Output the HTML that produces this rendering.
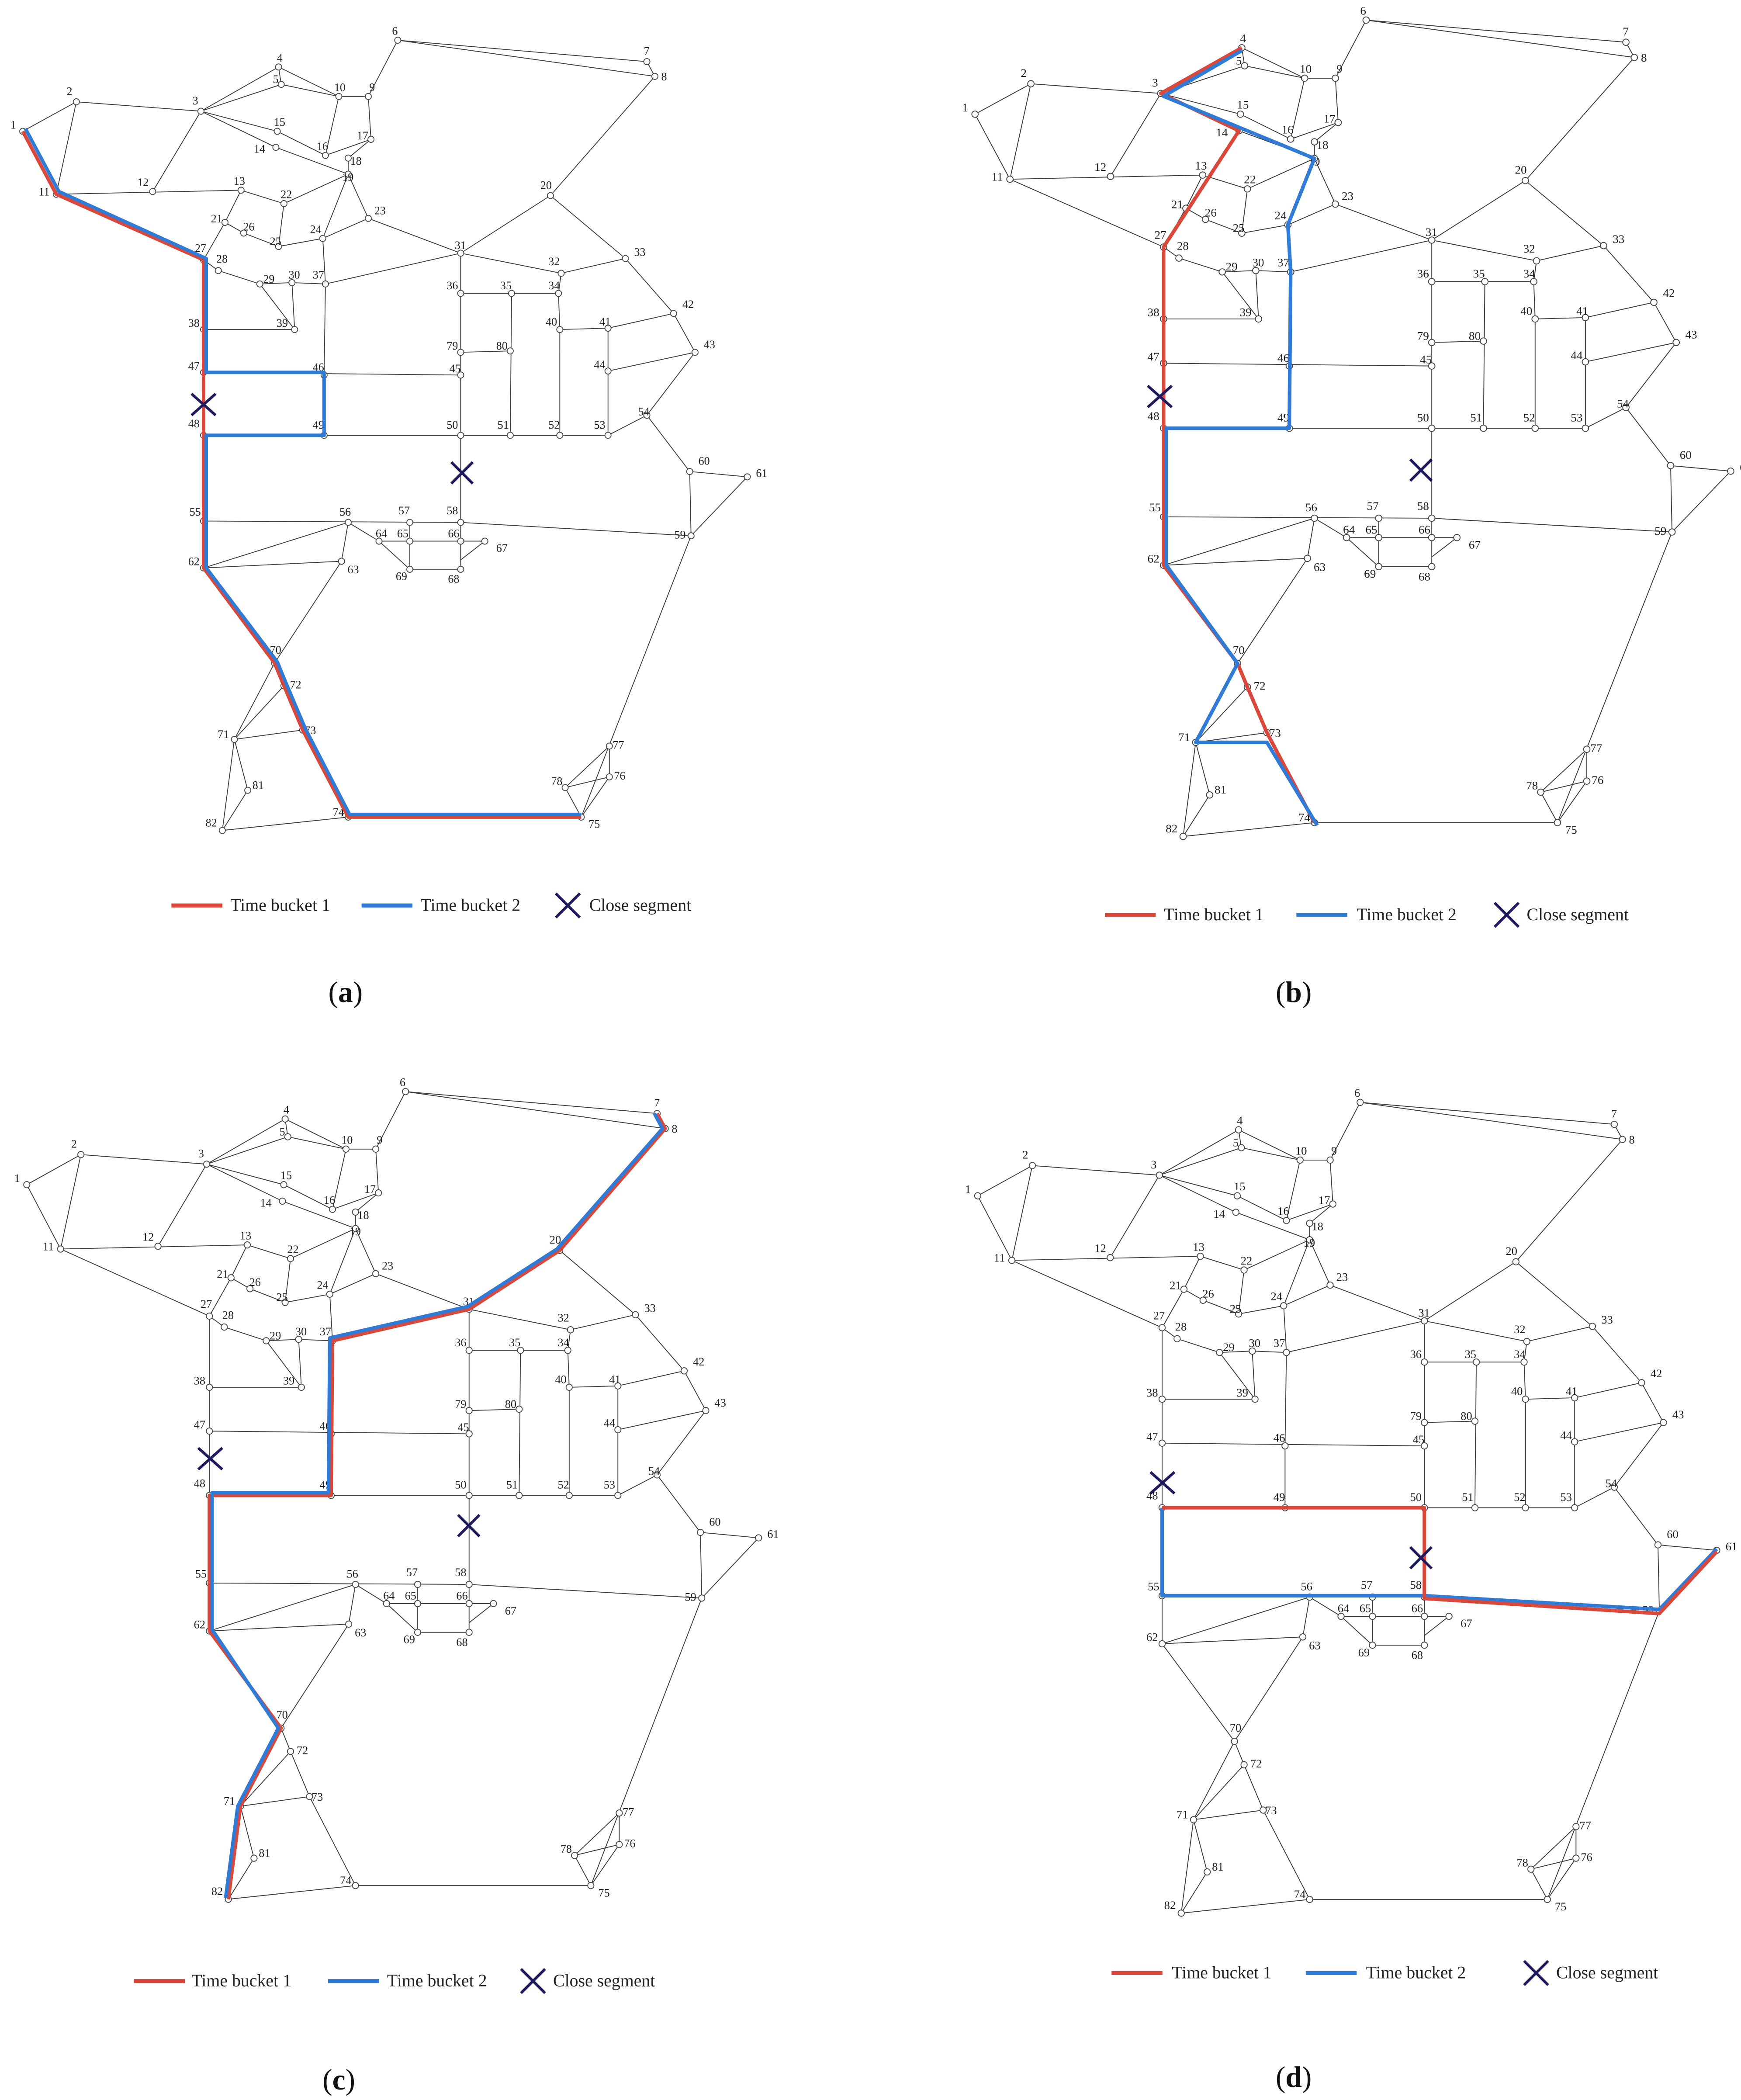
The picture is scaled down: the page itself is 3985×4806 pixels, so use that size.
<!DOCTYPE html>
<html><head><meta charset="utf-8"><style>
html,body{margin:0;padding:0;background:#fff;}
svg{display:block;}
.e{stroke:#3a3a3a;stroke-width:0.6;fill:none;}
.n circle{fill:#fff;stroke:#444;stroke-width:0.6;}
.l text{font-family:"Liberation Serif",serif;font-size:8.5px;fill:#222;text-anchor:end;}
.r{stroke:#d9483b;stroke-width:2.6;fill:none;stroke-linejoin:round;}
.b{stroke:#2f7bd6;stroke-width:2.6;fill:none;stroke-linejoin:round;}
.x{stroke:#1f1a5e;stroke-width:2;}
.lg{font-family:"Liberation Serif",serif;font-size:13px;fill:#222;}
.cap{font-family:"Liberation Serif",serif;font-size:22px;fill:#111;text-anchor:middle;}
</style></head><body>
<svg width="3985" height="4806" viewBox="0 0 1300 1567.8" xmlns="http://www.w3.org/2000/svg">
<rect width="1300" height="1568" fill="#fff"/>
<defs></defs>

<!-- PANEL A -->
<g transform="translate(0,0)">
<path class="e" d="M17 98L57 76M17 98L42 145M57 76L42 145M57 76L150 83M150 83L114 143M42 145L180 142M150 83L208 50M150 83L210 63M208 50L210 63M208 50L253 72M210 63L253 72M253 72L275 72M275 72L297 30M297 30L483 46M297 30L489 57M483 46L489 57M489 57L411 146M411 146L344 189M411 146L467 193M275 72L277 104M253 72L243 116M243 116L277 104M277 104L260 118M260 118L260 130M150 83L207 98M207 98L243 116M150 83L206 110M206 110L260 130M180 142L212 152M212 152L260 130M180 142L168 166M168 166L182 174M182 174L208 184M208 184L241 178M212 152L208 184M241 178L260 130M260 130L275 163M241 178L275 163M275 163L344 189M243 212L344 189M168 166L152 194M152 194L163 202M163 202L194 212M194 212L218 211M218 211L243 212M194 212L220 246M218 211L220 246M152 194L152 246M152 246L220 246M152 246L152 278M152 278L344 280M344 189L344 219M344 219L344 280M344 280L344 325M344 325L344 390M344 219L382 219M382 219L417 219M417 219L419 204M419 204L344 189M419 204L467 193M382 219L381 325M344 263L381 262M417 219L418 246M418 246L418 325M418 246L454 245M454 245L503 234M503 234L519 263M467 193L503 234M454 245L454 277M454 277L519 263M454 277L454 325M152 325L454 325M454 325L483 310M519 263L483 310M483 310L515 352M515 352L558 356M515 352L516 400M558 356L516 400M516 400L434 610M152 389L344 390M344 390L516 400M241 178L243 212M243 212L242 280M242 280L242 325M152 278L152 325M152 325L152 389M152 389L152 424M152 424L205 495M152 424L260 390M152 424L255 419M255 419L260 390M255 419L205 495M260 390L283 404M283 404L306 425M283 404L344 404M344 404L362 404M344 404L344 425M344 425L306 425M306 390L306 425M344 390L344 404M362 404L344 418M205 495L212 512M212 512L226 545M205 495L175 552M175 552L212 512M175 552L226 545M226 545L260 610M260 610L434 610M175 552L185 590M175 552L166 620M185 590L166 620M166 620L260 610M434 610L422 588M422 588L455 557M422 588L455 580M455 557L455 580M455 580L434 610M42 145L152 194"/>
<g class="n"><circle cx="17" cy="98" r="2.3"/><circle cx="57" cy="76" r="2.3"/><circle cx="150" cy="83" r="2.3"/><circle cx="208" cy="50" r="2.3"/><circle cx="210" cy="63" r="2.3"/><circle cx="297" cy="30" r="2.3"/><circle cx="483" cy="46" r="2.3"/><circle cx="489" cy="57" r="2.3"/><circle cx="275" cy="72" r="2.3"/><circle cx="253" cy="72" r="2.3"/><circle cx="42" cy="145" r="2.3"/><circle cx="114" cy="143" r="2.3"/><circle cx="180" cy="142" r="2.3"/><circle cx="206" cy="110" r="2.3"/><circle cx="207" cy="98" r="2.3"/><circle cx="243" cy="116" r="2.3"/><circle cx="277" cy="104" r="2.3"/><circle cx="260" cy="118" r="2.3"/><circle cx="260" cy="130" r="2.3"/><circle cx="411" cy="146" r="2.3"/><circle cx="168" cy="166" r="2.3"/><circle cx="212" cy="152" r="2.3"/><circle cx="275" cy="163" r="2.3"/><circle cx="241" cy="178" r="2.3"/><circle cx="208" cy="184" r="2.3"/><circle cx="182" cy="174" r="2.3"/><circle cx="152" cy="194" r="2.3"/><circle cx="163" cy="202" r="2.3"/><circle cx="194" cy="212" r="2.3"/><circle cx="218" cy="211" r="2.3"/><circle cx="344" cy="189" r="2.3"/><circle cx="419" cy="204" r="2.3"/><circle cx="467" cy="193" r="2.3"/><circle cx="417" cy="219" r="2.3"/><circle cx="382" cy="219" r="2.3"/><circle cx="344" cy="219" r="2.3"/><circle cx="243" cy="212" r="2.3"/><circle cx="152" cy="246" r="2.3"/><circle cx="220" cy="246" r="2.3"/><circle cx="418" cy="246" r="2.3"/><circle cx="454" cy="245" r="2.3"/><circle cx="503" cy="234" r="2.3"/><circle cx="519" cy="263" r="2.3"/><circle cx="454" cy="277" r="2.3"/><circle cx="344" cy="280" r="2.3"/><circle cx="242" cy="280" r="2.3"/><circle cx="152" cy="278" r="2.3"/><circle cx="152" cy="325" r="2.3"/><circle cx="242" cy="325" r="2.3"/><circle cx="344" cy="325" r="2.3"/><circle cx="381" cy="325" r="2.3"/><circle cx="418" cy="325" r="2.3"/><circle cx="454" cy="325" r="2.3"/><circle cx="483" cy="310" r="2.3"/><circle cx="152" cy="389" r="2.3"/><circle cx="260" cy="390" r="2.3"/><circle cx="306" cy="390" r="2.3"/><circle cx="344" cy="390" r="2.3"/><circle cx="516" cy="400" r="2.3"/><circle cx="515" cy="352" r="2.3"/><circle cx="558" cy="356" r="2.3"/><circle cx="152" cy="424" r="2.3"/><circle cx="255" cy="419" r="2.3"/><circle cx="283" cy="404" r="2.3"/><circle cx="306" cy="404" r="2.3"/><circle cx="344" cy="404" r="2.3"/><circle cx="362" cy="404" r="2.3"/><circle cx="344" cy="425" r="2.3"/><circle cx="306" cy="425" r="2.3"/><circle cx="205" cy="495" r="2.3"/><circle cx="175" cy="552" r="2.3"/><circle cx="212" cy="512" r="2.3"/><circle cx="226" cy="545" r="2.3"/><circle cx="260" cy="610" r="2.3"/><circle cx="434" cy="610" r="2.3"/><circle cx="455" cy="580" r="2.3"/><circle cx="455" cy="557" r="2.3"/><circle cx="422" cy="588" r="2.3"/><circle cx="344" cy="263" r="2.3"/><circle cx="381" cy="262" r="2.3"/><circle cx="185" cy="590" r="2.3"/><circle cx="166" cy="620" r="2.3"/></g>
<g class="l"><text x="12" y="96">1</text><text x="54" y="71">2</text><text x="148" y="78">3</text><text x="211" y="46">4</text><text x="208" y="62">5</text><text x="297" y="26">6</text><text x="485" y="41">7</text><text x="498" y="60">8</text><text x="280" y="68">9</text><text x="258" y="68">10</text><text x="37" y="146">11</text><text x="111" y="139">12</text><text x="183" y="138">13</text><text x="198" y="114">14</text><text x="213" y="94">15</text><text x="245" y="112">16</text><text x="275" y="104">17</text><text x="270" y="123">18</text><text x="264" y="135">19</text><text x="412" y="141">20</text><text x="166" y="166">21</text><text x="218" y="148">22</text><text x="288" y="160">23</text><text x="240" y="174">24</text><text x="210" y="183">25</text><text x="190" y="172">26</text><text x="154" y="188">27</text><text x="170" y="196">28</text><text x="205" y="211">29</text><text x="224" y="208">30</text><text x="348" y="186">31</text><text x="418" y="198">32</text><text x="482" y="191">33</text><text x="418" y="216">34</text><text x="382" y="216">35</text><text x="342" y="216">36</text><text x="242" y="208">37</text><text x="149" y="244">38</text><text x="215" y="244">39</text><text x="416" y="243">40</text><text x="456" y="243">41</text><text x="518" y="230">42</text><text x="534" y="260">43</text><text x="452" y="275">44</text><text x="344" y="278">45</text><text x="242" y="277">46</text><text x="149" y="276">47</text><text x="149" y="319">48</text><text x="242" y="320">49</text><text x="342" y="320">50</text><text x="380" y="320">51</text><text x="418" y="320">52</text><text x="452" y="320">53</text><text x="485" y="310">54</text><text x="150" y="385">55</text><text x="262" y="385">56</text><text x="306" y="384">57</text><text x="342" y="384">58</text><text x="512" y="402">59</text><text x="530" y="347">60</text><text x="573" y="356">61</text><text x="149" y="422">62</text><text x="268" y="428">63</text><text x="289" y="401">64</text><text x="305" y="401">65</text><text x="343" y="401">66</text><text x="379" y="412">67</text><text x="343" y="435">68</text><text x="304" y="433">69</text><text x="210" y="488">70</text><text x="171" y="551">71</text><text x="225" y="514">72</text><text x="236" y="548">73</text><text x="257" y="609">74</text><text x="448" y="618">75</text><text x="467" y="582">76</text><text x="466" y="559">77</text><text x="420" y="586">78</text><text x="342" y="261">79</text><text x="379" y="261">80</text><text x="197" y="589">81</text><text x="162" y="617">82</text></g>
<path class="r" d="M17 98L42 145L152 194L152 278L152 325L152 389L152 424L205 495L212 512L226 545L260 610L434 610"/>
<path class="b" d="M19 96L44 143L154 193L154 278L242 278L242 325L154 325L154 424L207 494L214 511L228 544L261 608L434 608"/>
</g>

<!-- PANEL B -->
<g transform="translate(710.3,-16) scale(1.043,1.033)">
<path class="e" d="M17 98L57 76M17 98L42 145M57 76L42 145M57 76L150 83M150 83L114 143M42 145L180 142M150 83L208 50M150 83L210 63M208 50L210 63M208 50L253 72M210 63L253 72M253 72L275 72M275 72L297 30M297 30L483 46M297 30L489 57M483 46L489 57M489 57L411 146M411 146L344 189M411 146L467 193M275 72L277 104M253 72L243 116M243 116L277 104M277 104L260 118M260 118L260 130M150 83L207 98M207 98L243 116M150 83L206 110M206 110L260 130M180 142L212 152M212 152L260 130M180 142L168 166M168 166L182 174M182 174L208 184M208 184L241 178M212 152L208 184M241 178L260 130M260 130L275 163M241 178L275 163M275 163L344 189M243 212L344 189M168 166L152 194M152 194L163 202M163 202L194 212M194 212L218 211M218 211L243 212M194 212L220 246M218 211L220 246M152 194L152 246M152 246L220 246M152 246L152 278M152 278L344 280M344 189L344 219M344 219L344 280M344 280L344 325M344 325L344 390M344 219L382 219M382 219L417 219M417 219L419 204M419 204L344 189M419 204L467 193M382 219L381 325M344 263L381 262M417 219L418 246M418 246L418 325M418 246L454 245M454 245L503 234M503 234L519 263M467 193L503 234M454 245L454 277M454 277L519 263M454 277L454 325M152 325L454 325M454 325L483 310M519 263L483 310M483 310L515 352M515 352L558 356M515 352L516 400M558 356L516 400M516 400L434 610M152 389L344 390M344 390L516 400M241 178L243 212M243 212L242 280M242 280L242 325M152 278L152 325M152 325L152 389M152 389L152 424M152 424L205 495M152 424L260 390M152 424L255 419M255 419L260 390M255 419L205 495M260 390L283 404M283 404L306 425M283 404L344 404M344 404L362 404M344 404L344 425M344 425L306 425M306 390L306 425M344 390L344 404M362 404L344 418M205 495L212 512M212 512L226 545M205 495L175 552M175 552L212 512M175 552L226 545M226 545L260 610M260 610L434 610M175 552L185 590M175 552L166 620M185 590L166 620M166 620L260 610M434 610L422 588M422 588L455 557M422 588L455 580M455 557L455 580M455 580L434 610M42 145L152 194"/>
<g class="n"><circle cx="17" cy="98" r="2.3"/><circle cx="57" cy="76" r="2.3"/><circle cx="150" cy="83" r="2.3"/><circle cx="208" cy="50" r="2.3"/><circle cx="210" cy="63" r="2.3"/><circle cx="297" cy="30" r="2.3"/><circle cx="483" cy="46" r="2.3"/><circle cx="489" cy="57" r="2.3"/><circle cx="275" cy="72" r="2.3"/><circle cx="253" cy="72" r="2.3"/><circle cx="42" cy="145" r="2.3"/><circle cx="114" cy="143" r="2.3"/><circle cx="180" cy="142" r="2.3"/><circle cx="206" cy="110" r="2.3"/><circle cx="207" cy="98" r="2.3"/><circle cx="243" cy="116" r="2.3"/><circle cx="277" cy="104" r="2.3"/><circle cx="260" cy="118" r="2.3"/><circle cx="260" cy="130" r="2.3"/><circle cx="411" cy="146" r="2.3"/><circle cx="168" cy="166" r="2.3"/><circle cx="212" cy="152" r="2.3"/><circle cx="275" cy="163" r="2.3"/><circle cx="241" cy="178" r="2.3"/><circle cx="208" cy="184" r="2.3"/><circle cx="182" cy="174" r="2.3"/><circle cx="152" cy="194" r="2.3"/><circle cx="163" cy="202" r="2.3"/><circle cx="194" cy="212" r="2.3"/><circle cx="218" cy="211" r="2.3"/><circle cx="344" cy="189" r="2.3"/><circle cx="419" cy="204" r="2.3"/><circle cx="467" cy="193" r="2.3"/><circle cx="417" cy="219" r="2.3"/><circle cx="382" cy="219" r="2.3"/><circle cx="344" cy="219" r="2.3"/><circle cx="243" cy="212" r="2.3"/><circle cx="152" cy="246" r="2.3"/><circle cx="220" cy="246" r="2.3"/><circle cx="418" cy="246" r="2.3"/><circle cx="454" cy="245" r="2.3"/><circle cx="503" cy="234" r="2.3"/><circle cx="519" cy="263" r="2.3"/><circle cx="454" cy="277" r="2.3"/><circle cx="344" cy="280" r="2.3"/><circle cx="242" cy="280" r="2.3"/><circle cx="152" cy="278" r="2.3"/><circle cx="152" cy="325" r="2.3"/><circle cx="242" cy="325" r="2.3"/><circle cx="344" cy="325" r="2.3"/><circle cx="381" cy="325" r="2.3"/><circle cx="418" cy="325" r="2.3"/><circle cx="454" cy="325" r="2.3"/><circle cx="483" cy="310" r="2.3"/><circle cx="152" cy="389" r="2.3"/><circle cx="260" cy="390" r="2.3"/><circle cx="306" cy="390" r="2.3"/><circle cx="344" cy="390" r="2.3"/><circle cx="516" cy="400" r="2.3"/><circle cx="515" cy="352" r="2.3"/><circle cx="558" cy="356" r="2.3"/><circle cx="152" cy="424" r="2.3"/><circle cx="255" cy="419" r="2.3"/><circle cx="283" cy="404" r="2.3"/><circle cx="306" cy="404" r="2.3"/><circle cx="344" cy="404" r="2.3"/><circle cx="362" cy="404" r="2.3"/><circle cx="344" cy="425" r="2.3"/><circle cx="306" cy="425" r="2.3"/><circle cx="205" cy="495" r="2.3"/><circle cx="175" cy="552" r="2.3"/><circle cx="212" cy="512" r="2.3"/><circle cx="226" cy="545" r="2.3"/><circle cx="260" cy="610" r="2.3"/><circle cx="434" cy="610" r="2.3"/><circle cx="455" cy="580" r="2.3"/><circle cx="455" cy="557" r="2.3"/><circle cx="422" cy="588" r="2.3"/><circle cx="344" cy="263" r="2.3"/><circle cx="381" cy="262" r="2.3"/><circle cx="185" cy="590" r="2.3"/><circle cx="166" cy="620" r="2.3"/></g>
<g class="l"><text x="12" y="96">1</text><text x="54" y="71">2</text><text x="148" y="78">3</text><text x="211" y="46">4</text><text x="208" y="62">5</text><text x="297" y="26">6</text><text x="485" y="41">7</text><text x="498" y="60">8</text><text x="280" y="68">9</text><text x="258" y="68">10</text><text x="37" y="146">11</text><text x="111" y="139">12</text><text x="183" y="138">13</text><text x="198" y="114">14</text><text x="213" y="94">15</text><text x="245" y="112">16</text><text x="275" y="104">17</text><text x="270" y="123">18</text><text x="264" y="135">19</text><text x="412" y="141">20</text><text x="166" y="166">21</text><text x="218" y="148">22</text><text x="288" y="160">23</text><text x="240" y="174">24</text><text x="210" y="183">25</text><text x="190" y="172">26</text><text x="154" y="188">27</text><text x="170" y="196">28</text><text x="205" y="211">29</text><text x="224" y="208">30</text><text x="348" y="186">31</text><text x="418" y="198">32</text><text x="482" y="191">33</text><text x="418" y="216">34</text><text x="382" y="216">35</text><text x="342" y="216">36</text><text x="242" y="208">37</text><text x="149" y="244">38</text><text x="215" y="244">39</text><text x="416" y="243">40</text><text x="456" y="243">41</text><text x="518" y="230">42</text><text x="534" y="260">43</text><text x="452" y="275">44</text><text x="344" y="278">45</text><text x="242" y="277">46</text><text x="149" y="276">47</text><text x="149" y="319">48</text><text x="242" y="320">49</text><text x="342" y="320">50</text><text x="380" y="320">51</text><text x="418" y="320">52</text><text x="452" y="320">53</text><text x="485" y="310">54</text><text x="150" y="385">55</text><text x="262" y="385">56</text><text x="306" y="384">57</text><text x="342" y="384">58</text><text x="512" y="402">59</text><text x="530" y="347">60</text><text x="573" y="356">61</text><text x="149" y="422">62</text><text x="268" y="428">63</text><text x="289" y="401">64</text><text x="305" y="401">65</text><text x="343" y="401">66</text><text x="379" y="412">67</text><text x="343" y="435">68</text><text x="304" y="433">69</text><text x="210" y="488">70</text><text x="171" y="551">71</text><text x="225" y="514">72</text><text x="236" y="548">73</text><text x="257" y="609">74</text><text x="448" y="618">75</text><text x="467" y="582">76</text><text x="466" y="559">77</text><text x="420" y="586">78</text><text x="342" y="261">79</text><text x="379" y="261">80</text><text x="197" y="589">81</text><text x="162" y="617">82</text></g>
<path class="r" d="M208 50L150 83L206 110L152 194L152 424L205 495L212 512L226 545L260 610"/>
<path class="b" d="M208 52L152 85L260 130L241 178L243 212L242 325L154 325L154 424L205 495L175 552L226 552L262 612"/>
</g>

<!-- PANEL C -->
<g transform="translate(2.83,784.3) scale(1.01,1.022)">
<path class="e" d="M17 98L57 76M17 98L42 145M57 76L42 145M57 76L150 83M150 83L114 143M42 145L180 142M150 83L208 50M150 83L210 63M208 50L210 63M208 50L253 72M210 63L253 72M253 72L275 72M275 72L297 30M297 30L483 46M297 30L489 57M483 46L489 57M489 57L411 146M411 146L344 189M411 146L467 193M275 72L277 104M253 72L243 116M243 116L277 104M277 104L260 118M260 118L260 130M150 83L207 98M207 98L243 116M150 83L206 110M206 110L260 130M180 142L212 152M212 152L260 130M180 142L168 166M168 166L182 174M182 174L208 184M208 184L241 178M212 152L208 184M241 178L260 130M260 130L275 163M241 178L275 163M275 163L344 189M243 212L344 189M168 166L152 194M152 194L163 202M163 202L194 212M194 212L218 211M218 211L243 212M194 212L220 246M218 211L220 246M152 194L152 246M152 246L220 246M152 246L152 278M152 278L344 280M344 189L344 219M344 219L344 280M344 280L344 325M344 325L344 390M344 219L382 219M382 219L417 219M417 219L419 204M419 204L344 189M419 204L467 193M382 219L381 325M344 263L381 262M417 219L418 246M418 246L418 325M418 246L454 245M454 245L503 234M503 234L519 263M467 193L503 234M454 245L454 277M454 277L519 263M454 277L454 325M152 325L454 325M454 325L483 310M519 263L483 310M483 310L515 352M515 352L558 356M515 352L516 400M558 356L516 400M516 400L434 610M152 389L344 390M344 390L516 400M241 178L243 212M243 212L242 280M242 280L242 325M152 278L152 325M152 325L152 389M152 389L152 424M152 424L205 495M152 424L260 390M152 424L255 419M255 419L260 390M255 419L205 495M260 390L283 404M283 404L306 425M283 404L344 404M344 404L362 404M344 404L344 425M344 425L306 425M306 390L306 425M344 390L344 404M362 404L344 418M205 495L212 512M212 512L226 545M205 495L175 552M175 552L212 512M175 552L226 545M226 545L260 610M260 610L434 610M175 552L185 590M175 552L166 620M185 590L166 620M166 620L260 610M434 610L422 588M422 588L455 557M422 588L455 580M455 557L455 580M455 580L434 610M42 145L152 194"/>
<g class="n"><circle cx="17" cy="98" r="2.3"/><circle cx="57" cy="76" r="2.3"/><circle cx="150" cy="83" r="2.3"/><circle cx="208" cy="50" r="2.3"/><circle cx="210" cy="63" r="2.3"/><circle cx="297" cy="30" r="2.3"/><circle cx="483" cy="46" r="2.3"/><circle cx="489" cy="57" r="2.3"/><circle cx="275" cy="72" r="2.3"/><circle cx="253" cy="72" r="2.3"/><circle cx="42" cy="145" r="2.3"/><circle cx="114" cy="143" r="2.3"/><circle cx="180" cy="142" r="2.3"/><circle cx="206" cy="110" r="2.3"/><circle cx="207" cy="98" r="2.3"/><circle cx="243" cy="116" r="2.3"/><circle cx="277" cy="104" r="2.3"/><circle cx="260" cy="118" r="2.3"/><circle cx="260" cy="130" r="2.3"/><circle cx="411" cy="146" r="2.3"/><circle cx="168" cy="166" r="2.3"/><circle cx="212" cy="152" r="2.3"/><circle cx="275" cy="163" r="2.3"/><circle cx="241" cy="178" r="2.3"/><circle cx="208" cy="184" r="2.3"/><circle cx="182" cy="174" r="2.3"/><circle cx="152" cy="194" r="2.3"/><circle cx="163" cy="202" r="2.3"/><circle cx="194" cy="212" r="2.3"/><circle cx="218" cy="211" r="2.3"/><circle cx="344" cy="189" r="2.3"/><circle cx="419" cy="204" r="2.3"/><circle cx="467" cy="193" r="2.3"/><circle cx="417" cy="219" r="2.3"/><circle cx="382" cy="219" r="2.3"/><circle cx="344" cy="219" r="2.3"/><circle cx="243" cy="212" r="2.3"/><circle cx="152" cy="246" r="2.3"/><circle cx="220" cy="246" r="2.3"/><circle cx="418" cy="246" r="2.3"/><circle cx="454" cy="245" r="2.3"/><circle cx="503" cy="234" r="2.3"/><circle cx="519" cy="263" r="2.3"/><circle cx="454" cy="277" r="2.3"/><circle cx="344" cy="280" r="2.3"/><circle cx="242" cy="280" r="2.3"/><circle cx="152" cy="278" r="2.3"/><circle cx="152" cy="325" r="2.3"/><circle cx="242" cy="325" r="2.3"/><circle cx="344" cy="325" r="2.3"/><circle cx="381" cy="325" r="2.3"/><circle cx="418" cy="325" r="2.3"/><circle cx="454" cy="325" r="2.3"/><circle cx="483" cy="310" r="2.3"/><circle cx="152" cy="389" r="2.3"/><circle cx="260" cy="390" r="2.3"/><circle cx="306" cy="390" r="2.3"/><circle cx="344" cy="390" r="2.3"/><circle cx="516" cy="400" r="2.3"/><circle cx="515" cy="352" r="2.3"/><circle cx="558" cy="356" r="2.3"/><circle cx="152" cy="424" r="2.3"/><circle cx="255" cy="419" r="2.3"/><circle cx="283" cy="404" r="2.3"/><circle cx="306" cy="404" r="2.3"/><circle cx="344" cy="404" r="2.3"/><circle cx="362" cy="404" r="2.3"/><circle cx="344" cy="425" r="2.3"/><circle cx="306" cy="425" r="2.3"/><circle cx="205" cy="495" r="2.3"/><circle cx="175" cy="552" r="2.3"/><circle cx="212" cy="512" r="2.3"/><circle cx="226" cy="545" r="2.3"/><circle cx="260" cy="610" r="2.3"/><circle cx="434" cy="610" r="2.3"/><circle cx="455" cy="580" r="2.3"/><circle cx="455" cy="557" r="2.3"/><circle cx="422" cy="588" r="2.3"/><circle cx="344" cy="263" r="2.3"/><circle cx="381" cy="262" r="2.3"/><circle cx="185" cy="590" r="2.3"/><circle cx="166" cy="620" r="2.3"/></g>
<g class="l"><text x="12" y="96">1</text><text x="54" y="71">2</text><text x="148" y="78">3</text><text x="211" y="46">4</text><text x="208" y="62">5</text><text x="297" y="26">6</text><text x="485" y="41">7</text><text x="498" y="60">8</text><text x="280" y="68">9</text><text x="258" y="68">10</text><text x="37" y="146">11</text><text x="111" y="139">12</text><text x="183" y="138">13</text><text x="198" y="114">14</text><text x="213" y="94">15</text><text x="245" y="112">16</text><text x="275" y="104">17</text><text x="270" y="123">18</text><text x="264" y="135">19</text><text x="412" y="141">20</text><text x="166" y="166">21</text><text x="218" y="148">22</text><text x="288" y="160">23</text><text x="240" y="174">24</text><text x="210" y="183">25</text><text x="190" y="172">26</text><text x="154" y="188">27</text><text x="170" y="196">28</text><text x="205" y="211">29</text><text x="224" y="208">30</text><text x="348" y="186">31</text><text x="418" y="198">32</text><text x="482" y="191">33</text><text x="418" y="216">34</text><text x="382" y="216">35</text><text x="342" y="216">36</text><text x="242" y="208">37</text><text x="149" y="244">38</text><text x="215" y="244">39</text><text x="416" y="243">40</text><text x="456" y="243">41</text><text x="518" y="230">42</text><text x="534" y="260">43</text><text x="452" y="275">44</text><text x="344" y="278">45</text><text x="242" y="277">46</text><text x="149" y="276">47</text><text x="149" y="319">48</text><text x="242" y="320">49</text><text x="342" y="320">50</text><text x="380" y="320">51</text><text x="418" y="320">52</text><text x="452" y="320">53</text><text x="485" y="310">54</text><text x="150" y="385">55</text><text x="262" y="385">56</text><text x="306" y="384">57</text><text x="342" y="384">58</text><text x="512" y="402">59</text><text x="530" y="347">60</text><text x="573" y="356">61</text><text x="149" y="422">62</text><text x="268" y="428">63</text><text x="289" y="401">64</text><text x="305" y="401">65</text><text x="343" y="401">66</text><text x="379" y="412">67</text><text x="343" y="435">68</text><text x="304" y="433">69</text><text x="210" y="488">70</text><text x="171" y="551">71</text><text x="225" y="514">72</text><text x="236" y="548">73</text><text x="257" y="609">74</text><text x="448" y="618">75</text><text x="467" y="582">76</text><text x="466" y="559">77</text><text x="420" y="586">78</text><text x="342" y="261">79</text><text x="379" y="261">80</text><text x="197" y="589">81</text><text x="162" y="617">82</text></g>
<path class="r" d="M483 46L489 57L411 146L344 189L243 212L242 325L152 325L152 424L205 495L175 552L166 620"/>
<path class="b" d="M481 46L487 57L409 145L343 187L241 210L240 323L154 323L154 423L203 495L173 552L164 619"/>
</g>

<!-- PANEL D -->
<g transform="translate(712.7,792.2) scale(1.02,1.026)">
<path class="e" d="M17 98L57 76M17 98L42 145M57 76L42 145M57 76L150 83M150 83L114 143M42 145L180 142M150 83L208 50M150 83L210 63M208 50L210 63M208 50L253 72M210 63L253 72M253 72L275 72M275 72L297 30M297 30L483 46M297 30L489 57M483 46L489 57M489 57L411 146M411 146L344 189M411 146L467 193M275 72L277 104M253 72L243 116M243 116L277 104M277 104L260 118M260 118L260 130M150 83L207 98M207 98L243 116M150 83L206 110M206 110L260 130M180 142L212 152M212 152L260 130M180 142L168 166M168 166L182 174M182 174L208 184M208 184L241 178M212 152L208 184M241 178L260 130M260 130L275 163M241 178L275 163M275 163L344 189M243 212L344 189M168 166L152 194M152 194L163 202M163 202L194 212M194 212L218 211M218 211L243 212M194 212L220 246M218 211L220 246M152 194L152 246M152 246L220 246M152 246L152 278M152 278L344 280M344 189L344 219M344 219L344 280M344 280L344 325M344 325L344 390M344 219L382 219M382 219L417 219M417 219L419 204M419 204L344 189M419 204L467 193M382 219L381 325M344 263L381 262M417 219L418 246M418 246L418 325M418 246L454 245M454 245L503 234M503 234L519 263M467 193L503 234M454 245L454 277M454 277L519 263M454 277L454 325M152 325L454 325M454 325L483 310M519 263L483 310M483 310L515 352M515 352L558 356M515 352L516 400M558 356L516 400M516 400L434 610M152 389L344 390M344 390L516 400M241 178L243 212M243 212L242 280M242 280L242 325M152 278L152 325M152 325L152 389M152 389L152 424M152 424L205 495M152 424L260 390M152 424L255 419M255 419L260 390M255 419L205 495M260 390L283 404M283 404L306 425M283 404L344 404M344 404L362 404M344 404L344 425M344 425L306 425M306 390L306 425M344 390L344 404M362 404L344 418M205 495L212 512M212 512L226 545M205 495L175 552M175 552L212 512M175 552L226 545M226 545L260 610M260 610L434 610M175 552L185 590M175 552L166 620M185 590L166 620M166 620L260 610M434 610L422 588M422 588L455 557M422 588L455 580M455 557L455 580M455 580L434 610M42 145L152 194"/>
<g class="n"><circle cx="17" cy="98" r="2.3"/><circle cx="57" cy="76" r="2.3"/><circle cx="150" cy="83" r="2.3"/><circle cx="208" cy="50" r="2.3"/><circle cx="210" cy="63" r="2.3"/><circle cx="297" cy="30" r="2.3"/><circle cx="483" cy="46" r="2.3"/><circle cx="489" cy="57" r="2.3"/><circle cx="275" cy="72" r="2.3"/><circle cx="253" cy="72" r="2.3"/><circle cx="42" cy="145" r="2.3"/><circle cx="114" cy="143" r="2.3"/><circle cx="180" cy="142" r="2.3"/><circle cx="206" cy="110" r="2.3"/><circle cx="207" cy="98" r="2.3"/><circle cx="243" cy="116" r="2.3"/><circle cx="277" cy="104" r="2.3"/><circle cx="260" cy="118" r="2.3"/><circle cx="260" cy="130" r="2.3"/><circle cx="411" cy="146" r="2.3"/><circle cx="168" cy="166" r="2.3"/><circle cx="212" cy="152" r="2.3"/><circle cx="275" cy="163" r="2.3"/><circle cx="241" cy="178" r="2.3"/><circle cx="208" cy="184" r="2.3"/><circle cx="182" cy="174" r="2.3"/><circle cx="152" cy="194" r="2.3"/><circle cx="163" cy="202" r="2.3"/><circle cx="194" cy="212" r="2.3"/><circle cx="218" cy="211" r="2.3"/><circle cx="344" cy="189" r="2.3"/><circle cx="419" cy="204" r="2.3"/><circle cx="467" cy="193" r="2.3"/><circle cx="417" cy="219" r="2.3"/><circle cx="382" cy="219" r="2.3"/><circle cx="344" cy="219" r="2.3"/><circle cx="243" cy="212" r="2.3"/><circle cx="152" cy="246" r="2.3"/><circle cx="220" cy="246" r="2.3"/><circle cx="418" cy="246" r="2.3"/><circle cx="454" cy="245" r="2.3"/><circle cx="503" cy="234" r="2.3"/><circle cx="519" cy="263" r="2.3"/><circle cx="454" cy="277" r="2.3"/><circle cx="344" cy="280" r="2.3"/><circle cx="242" cy="280" r="2.3"/><circle cx="152" cy="278" r="2.3"/><circle cx="152" cy="325" r="2.3"/><circle cx="242" cy="325" r="2.3"/><circle cx="344" cy="325" r="2.3"/><circle cx="381" cy="325" r="2.3"/><circle cx="418" cy="325" r="2.3"/><circle cx="454" cy="325" r="2.3"/><circle cx="483" cy="310" r="2.3"/><circle cx="152" cy="389" r="2.3"/><circle cx="260" cy="390" r="2.3"/><circle cx="306" cy="390" r="2.3"/><circle cx="344" cy="390" r="2.3"/><circle cx="516" cy="400" r="2.3"/><circle cx="515" cy="352" r="2.3"/><circle cx="558" cy="356" r="2.3"/><circle cx="152" cy="424" r="2.3"/><circle cx="255" cy="419" r="2.3"/><circle cx="283" cy="404" r="2.3"/><circle cx="306" cy="404" r="2.3"/><circle cx="344" cy="404" r="2.3"/><circle cx="362" cy="404" r="2.3"/><circle cx="344" cy="425" r="2.3"/><circle cx="306" cy="425" r="2.3"/><circle cx="205" cy="495" r="2.3"/><circle cx="175" cy="552" r="2.3"/><circle cx="212" cy="512" r="2.3"/><circle cx="226" cy="545" r="2.3"/><circle cx="260" cy="610" r="2.3"/><circle cx="434" cy="610" r="2.3"/><circle cx="455" cy="580" r="2.3"/><circle cx="455" cy="557" r="2.3"/><circle cx="422" cy="588" r="2.3"/><circle cx="344" cy="263" r="2.3"/><circle cx="381" cy="262" r="2.3"/><circle cx="185" cy="590" r="2.3"/><circle cx="166" cy="620" r="2.3"/></g>
<g class="l"><text x="12" y="96">1</text><text x="54" y="71">2</text><text x="148" y="78">3</text><text x="211" y="46">4</text><text x="208" y="62">5</text><text x="297" y="26">6</text><text x="485" y="41">7</text><text x="498" y="60">8</text><text x="280" y="68">9</text><text x="258" y="68">10</text><text x="37" y="146">11</text><text x="111" y="139">12</text><text x="183" y="138">13</text><text x="198" y="114">14</text><text x="213" y="94">15</text><text x="245" y="112">16</text><text x="275" y="104">17</text><text x="270" y="123">18</text><text x="264" y="135">19</text><text x="412" y="141">20</text><text x="166" y="166">21</text><text x="218" y="148">22</text><text x="288" y="160">23</text><text x="240" y="174">24</text><text x="210" y="183">25</text><text x="190" y="172">26</text><text x="154" y="188">27</text><text x="170" y="196">28</text><text x="205" y="211">29</text><text x="224" y="208">30</text><text x="348" y="186">31</text><text x="418" y="198">32</text><text x="482" y="191">33</text><text x="418" y="216">34</text><text x="382" y="216">35</text><text x="342" y="216">36</text><text x="242" y="208">37</text><text x="149" y="244">38</text><text x="215" y="244">39</text><text x="416" y="243">40</text><text x="456" y="243">41</text><text x="518" y="230">42</text><text x="534" y="260">43</text><text x="452" y="275">44</text><text x="344" y="278">45</text><text x="242" y="277">46</text><text x="149" y="276">47</text><text x="149" y="319">48</text><text x="242" y="320">49</text><text x="342" y="320">50</text><text x="380" y="320">51</text><text x="418" y="320">52</text><text x="452" y="320">53</text><text x="485" y="310">54</text><text x="150" y="385">55</text><text x="262" y="385">56</text><text x="306" y="384">57</text><text x="342" y="384">58</text><text x="512" y="402">59</text><text x="530" y="347">60</text><text x="573" y="356">61</text><text x="149" y="422">62</text><text x="268" y="428">63</text><text x="289" y="401">64</text><text x="305" y="401">65</text><text x="343" y="401">66</text><text x="379" y="412">67</text><text x="343" y="435">68</text><text x="304" y="433">69</text><text x="210" y="488">70</text><text x="171" y="551">71</text><text x="225" y="514">72</text><text x="236" y="548">73</text><text x="257" y="609">74</text><text x="448" y="618">75</text><text x="467" y="582">76</text><text x="466" y="559">77</text><text x="420" y="586">78</text><text x="342" y="261">79</text><text x="379" y="261">80</text><text x="197" y="589">81</text><text x="162" y="617">82</text></g>
<path class="b" d="M152 325L152 389L344 389L516 399L558 355"/>
<path class="r" d="M152 325L344 325L344 391L516 402L558 357"/>
</g>

<!-- X marks -->
<g class="x">
<path d="M143 294L161 310M161 294L143 310"/>
<path d="M337 345L353 361M353 345L337 361"/>
<path d="M857 288L875 304M875 288L857 304"/>
<path d="M1053 343L1069 359M1069 343L1053 359"/>
<path d="M148 1081L166 1097M166 1081L148 1097"/>
<path d="M342 1131L358 1147M358 1131L342 1147"/>
<path d="M859 1099L877 1115M877 1099L859 1115"/>
<path d="M1053 1155L1069 1171M1069 1155L1053 1171"/>
</g>

<!-- Legends -->
<g>
<line x1="128" y1="676" x2="166" y2="676" stroke="#d9483b" stroke-width="3"/><text class="lg" x="172" y="680">Time bucket 1</text>
<line x1="270" y1="676" x2="308" y2="676" stroke="#2f7bd6" stroke-width="3"/><text class="lg" x="314" y="680">Time bucket 2</text>
<path class="x" d="M415 667L433 685M433 667L415 685"/><text class="lg" x="440" y="680">Close segment</text>

<line x1="825" y1="683" x2="863" y2="683" stroke="#d9483b" stroke-width="3"/><text class="lg" x="869" y="687">Time bucket 1</text>
<line x1="968" y1="683" x2="1006" y2="683" stroke="#2f7bd6" stroke-width="3"/><text class="lg" x="1013" y="687">Time bucket 2</text>
<path class="x" d="M1116 674L1134 692M1134 674L1116 692"/><text class="lg" x="1140" y="687">Close segment</text>

<line x1="100" y1="1479" x2="138" y2="1479" stroke="#d9483b" stroke-width="3"/><text class="lg" x="143" y="1483">Time bucket 1</text>
<line x1="245" y1="1479" x2="283" y2="1479" stroke="#2f7bd6" stroke-width="3"/><text class="lg" x="289" y="1483">Time bucket 2</text>
<path class="x" d="M389 1470L407 1488M407 1470L389 1488"/><text class="lg" x="413" y="1483">Close segment</text>

<line x1="830" y1="1473" x2="868" y2="1473" stroke="#d9483b" stroke-width="3"/><text class="lg" x="875" y="1477">Time bucket 1</text>
<line x1="975" y1="1473" x2="1013" y2="1473" stroke="#2f7bd6" stroke-width="3"/><text class="lg" x="1020" y="1477">Time bucket 2</text>
<path class="x" d="M1138 1464L1156 1482M1156 1464L1138 1482"/><text class="lg" x="1162" y="1477">Close segment</text>
</g>

<text class="cap" x="258" y="748">(<tspan font-weight="bold">a</tspan>)</text>
<text class="cap" x="966" y="748">(<tspan font-weight="bold">b</tspan>)</text>
<text class="cap" x="253" y="1560">(<tspan font-weight="bold">c</tspan>)</text>
<text class="cap" x="966" y="1558">(<tspan font-weight="bold">d</tspan>)</text>
</svg>
</body></html>
